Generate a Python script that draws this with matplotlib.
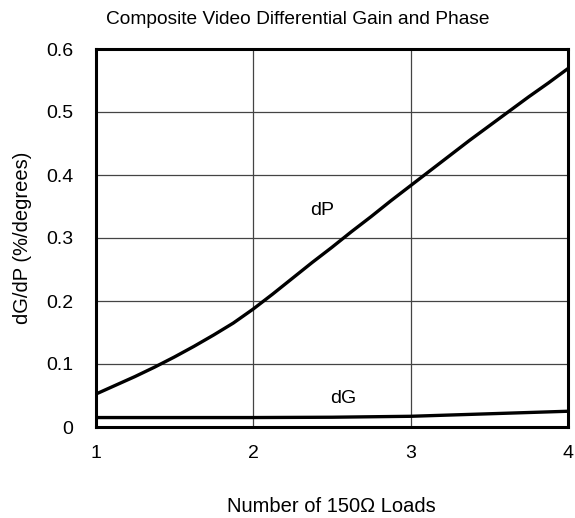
import matplotlib
matplotlib.use("Agg")
import matplotlib.pyplot as plt

plt.rcParams['font.family'] = ['Liberation Sans', 'DejaVu Sans']

loads = [1.0, 1.125, 1.25, 1.375, 1.5, 1.625, 1.75, 1.875, 2.0, 2.125, 2.25, 2.375, 2.5,
         2.625, 2.75, 2.875, 3.0, 3.125, 3.25, 3.375, 3.5, 3.625, 3.75, 3.875, 4.0]
dP = [0.052, 0.066, 0.080, 0.095, 0.111, 0.128, 0.146, 0.165, 0.187, 0.211, 0.236, 0.261, 0.285,
      0.310, 0.334, 0.359, 0.383, 0.407, 0.431, 0.455, 0.478, 0.501, 0.524, 0.546, 0.569]
dG_x = [1, 1.5, 2, 2.5, 3, 3.5, 4]
dG = [0.015, 0.015, 0.015, 0.0155, 0.017, 0.021, 0.025]

x_ticks = [1, 2, 3, 4]
y_ticks = [0, 0.1, 0.2, 0.3, 0.4, 0.5, 0.6]
y_tick_labels = ['0', '0.1', '0.2', '0.3', '0.4', '0.5', '0.6']

fig = plt.figure(figsize=(5.75, 5.18), dpi=100)
ax = fig.add_axes([95.5/575, 1-427/518, (568-95.5)/575, (427-49)/518])

ax.plot(loads, dP, color='black', lw=2.4, solid_joinstyle='round', solid_capstyle='butt')
ax.plot(dG_x, dG, color='black', lw=2.4, solid_joinstyle='round', solid_capstyle='butt')

ax.set_xlim(1, 4)
ax.set_ylim(0, 0.6)
ax.set_xticks(x_ticks)
ax.set_xticklabels([str(v) for v in x_ticks])
ax.set_yticks(y_ticks)
ax.set_yticklabels(y_tick_labels)
ax.grid(True, color='#444444', lw=0.9)
ax.tick_params(axis='x', length=0, labelsize=14, pad=13)
ax.tick_params(axis='y', length=0, labelsize=14, pad=16)
for s in ax.spines.values():
    s.set_linewidth(2.2)
    s.set_color('black')

ax.text(2.44, 0.344, 'dP', fontsize=14, ha='center', va='center')
ax.text(2.57, 0.046, 'dG', fontsize=14, ha='center', va='center')

fig.text(298/575, 1-19/518, 'Composite Video Differential Gain and Phase',
         fontsize=13.8, ha='center', va='center')
ax.set_xlabel('Number of 150Ω Loads', fontsize=14.5, labelpad=25)
ax.set_ylabel('dG/dP (%/degrees)', fontsize=14.5, labelpad=10)

fig.savefig('out.png', dpi=100)
